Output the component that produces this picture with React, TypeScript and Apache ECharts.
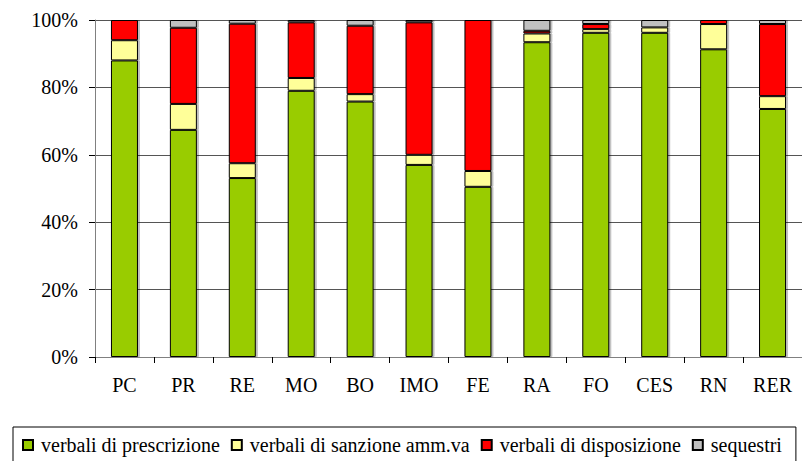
import React, { useEffect, useRef } from "react";
import * as echarts from "echarts";

const categories = ["PC", "PR", "RE", "MO", "BO", "IMO", "FE", "RA", "FO", "CES", "RN", "RER"];
const prescrizione = [88.0, 67.4, 53.1, 79.0, 75.8, 57.0, 50.5, 93.4, 96.2, 96.2, 91.3, 73.6];
const sanzione = [6.0, 7.7, 4.4, 3.8, 2.2, 3.0, 4.7, 2.6, 1.1, 1.6, 7.5, 3.8];
const disposizione = [6.0, 22.6, 41.4, 16.5, 20.3, 39.3, 44.8, 0.8, 1.5, 0.0, 1.2, 21.4];
const sequestri = [0.0, 2.3, 1.1, 0.7, 1.7, 0.7, 0.0, 3.2, 1.2, 2.2, 0.0, 1.2];

const seriesNames = [
  "verbali di prescrizione",
  "verbali di sanzione amm.va",
  "verbali di disposizione",
  "sequestri",
];
const seriesData = [prescrizione, sanzione, disposizione, sequestri];
const seriesColors = ["#99CC00", "#FFFF99", "#FF0000", "#C0C0C0"];

const FONT = "Liberation Serif";

export default function App() {
  const ref = useRef<HTMLDivElement>(null);
  useEffect(() => {
    if (!ref.current) return;
    const chart = echarts.init(ref.current, undefined, { renderer: "svg" });
    chart.setOption({
      animation: false,
      backgroundColor: "#ffffff",
      textStyle: { fontFamily: FONT, color: "#000" },
      grid: { left: 95, top: 20, width: 714, height: 337, containLabel: false },
      legend: {
        left: 13,
        top: 427,
        orient: "horizontal",
        padding: [8, 14, 8, 9],
        borderColor: "#000",
        borderWidth: 1,
        itemWidth: 10,
        itemHeight: 10,
        itemGap: 11,
        icon: "rect",
        textStyle: { fontFamily: FONT, fontSize: 20, color: "#000", padding: [0, 0, 0, 3] },
        data: seriesNames,
      },
      xAxis: {
        type: "category",
        data: categories,
        axisLine: { lineStyle: { color: "#808080", width: 1 } },
        axisTick: { show: true, length: 6, lineStyle: { color: "#000" } },
        axisLabel: { fontFamily: FONT, fontSize: 20, color: "#000", margin: 18 },
        splitLine: { show: false },
      },
      yAxis: {
        type: "value",
        min: 0,
        max: 100,
        interval: 20,
        axisLine: { show: true, lineStyle: { color: "#808080", width: 1 } },
        axisTick: { show: true, length: 6, lineStyle: { color: "#000" } },
        axisLabel: {
          fontFamily: FONT,
          fontSize: 20,
          color: "#000",
          margin: 17,
          formatter: "{value}%",
        },
        splitLine: { show: true, lineStyle: { color: "#555", width: 1 } },
      },
      series: seriesNames.map((name, i) => ({
        name,
        type: "bar",
        stack: "total",
        barWidth: 27,
        data: seriesData[i],
        itemStyle: {
          color: seriesColors[i],
          borderColor: "#000",
          borderWidth: 1,
          shadowColor: "rgba(0,0,0,0.25)",
          shadowOffsetX: 2,
          shadowOffsetY: 0,
          shadowBlur: 0,
        },
        emphasis: { disabled: true },
      })),
    });
    return () => chart.dispose();
  }, []);
  return (
    <div
      ref={ref}
      style={{ position: "fixed", left: 0, top: 0, width: 802, height: 461 }}
    />
  );
}
